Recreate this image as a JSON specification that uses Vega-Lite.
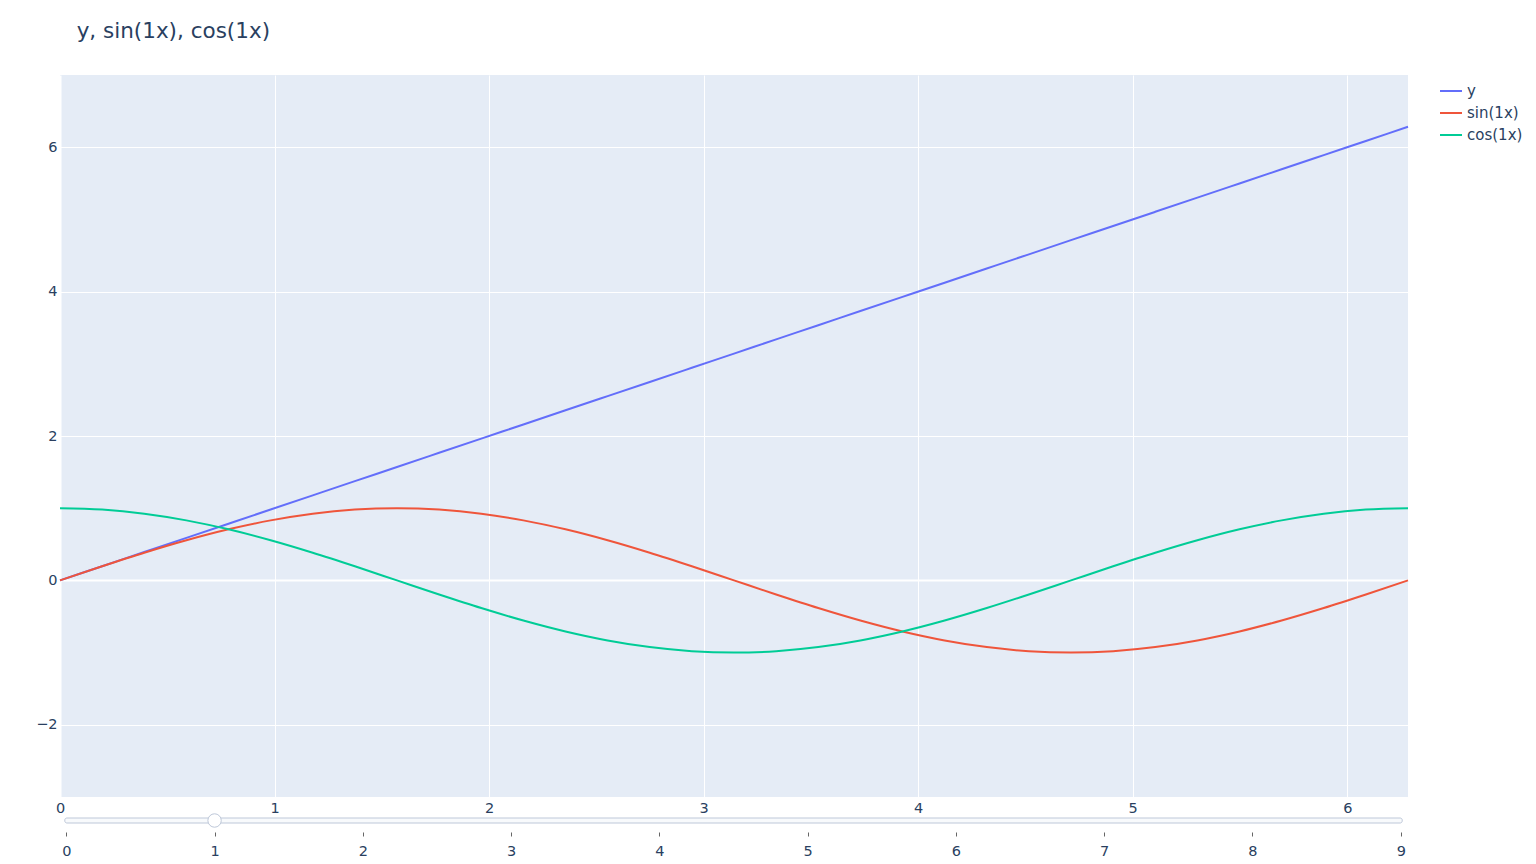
{
  "$schema": "https://vega.github.io/schema/vega-lite/v6.json",
  "padding": {"left": 35, "top": 20, "right": 5, "bottom": 5},
  "background": "white",
  "bounds": "flush",
  "spacing": 21,
  "title": {"text": "y, sin(1x), cos(1x)", "anchor": "start", "dx": 41, "fontSize": 21.5, "fontWeight": "normal", "color": "#2a3f5f", "offset": 33, "font": "DejaVu Sans"},
  "config": {
    "font": "DejaVu Sans",
    "legend": {"labelFontSize": 15, "labelColor": "#2a3f5f", "labelFont": "DejaVu Sans"},
    "axis": {"labelFont": "DejaVu Sans", "labelFontSize": 14.5, "labelColor": "#2a3f5f"}
  },
  "datasets": {
    "curves": [
      {"x": 0, "s": "y", "v": 0}, {"x": 0, "s": "sin(1x)", "v": 0}, {"x": 0, "s": "cos(1x)", "v": 1},
      {"x": 0.19635, "s": "y", "v": 0.19635}, {"x": 0.19635, "s": "sin(1x)", "v": 0.19509}, {"x": 0.19635, "s": "cos(1x)", "v": 0.98079},
      {"x": 0.3927, "s": "y", "v": 0.3927}, {"x": 0.3927, "s": "sin(1x)", "v": 0.38268}, {"x": 0.3927, "s": "cos(1x)", "v": 0.92388},
      {"x": 0.58905, "s": "y", "v": 0.58905}, {"x": 0.58905, "s": "sin(1x)", "v": 0.55557}, {"x": 0.58905, "s": "cos(1x)", "v": 0.83147},
      {"x": 0.7854, "s": "y", "v": 0.7854}, {"x": 0.7854, "s": "sin(1x)", "v": 0.70711}, {"x": 0.7854, "s": "cos(1x)", "v": 0.70711},
      {"x": 0.98175, "s": "y", "v": 0.98175}, {"x": 0.98175, "s": "sin(1x)", "v": 0.83147}, {"x": 0.98175, "s": "cos(1x)", "v": 0.55557},
      {"x": 1.1781, "s": "y", "v": 1.1781}, {"x": 1.1781, "s": "sin(1x)", "v": 0.92388}, {"x": 1.1781, "s": "cos(1x)", "v": 0.38268},
      {"x": 1.37445, "s": "y", "v": 1.37445}, {"x": 1.37445, "s": "sin(1x)", "v": 0.98079}, {"x": 1.37445, "s": "cos(1x)", "v": 0.19509},
      {"x": 1.5708, "s": "y", "v": 1.5708}, {"x": 1.5708, "s": "sin(1x)", "v": 1}, {"x": 1.5708, "s": "cos(1x)", "v": 0},
      {"x": 1.76715, "s": "y", "v": 1.76715}, {"x": 1.76715, "s": "sin(1x)", "v": 0.98079}, {"x": 1.76715, "s": "cos(1x)", "v": -0.19509},
      {"x": 1.9635, "s": "y", "v": 1.9635}, {"x": 1.9635, "s": "sin(1x)", "v": 0.92388}, {"x": 1.9635, "s": "cos(1x)", "v": -0.38268},
      {"x": 2.15984, "s": "y", "v": 2.15984}, {"x": 2.15984, "s": "sin(1x)", "v": 0.83147}, {"x": 2.15984, "s": "cos(1x)", "v": -0.55557},
      {"x": 2.35619, "s": "y", "v": 2.35619}, {"x": 2.35619, "s": "sin(1x)", "v": 0.70711}, {"x": 2.35619, "s": "cos(1x)", "v": -0.70711},
      {"x": 2.55254, "s": "y", "v": 2.55254}, {"x": 2.55254, "s": "sin(1x)", "v": 0.55557}, {"x": 2.55254, "s": "cos(1x)", "v": -0.83147},
      {"x": 2.74889, "s": "y", "v": 2.74889}, {"x": 2.74889, "s": "sin(1x)", "v": 0.38268}, {"x": 2.74889, "s": "cos(1x)", "v": -0.92388},
      {"x": 2.94524, "s": "y", "v": 2.94524}, {"x": 2.94524, "s": "sin(1x)", "v": 0.19509}, {"x": 2.94524, "s": "cos(1x)", "v": -0.98079},
      {"x": 3.14159, "s": "y", "v": 3.14159}, {"x": 3.14159, "s": "sin(1x)", "v": 0}, {"x": 3.14159, "s": "cos(1x)", "v": -1},
      {"x": 3.33794, "s": "y", "v": 3.33794}, {"x": 3.33794, "s": "sin(1x)", "v": -0.19509}, {"x": 3.33794, "s": "cos(1x)", "v": -0.98079},
      {"x": 3.53429, "s": "y", "v": 3.53429}, {"x": 3.53429, "s": "sin(1x)", "v": -0.38268}, {"x": 3.53429, "s": "cos(1x)", "v": -0.92388},
      {"x": 3.73064, "s": "y", "v": 3.73064}, {"x": 3.73064, "s": "sin(1x)", "v": -0.55557}, {"x": 3.73064, "s": "cos(1x)", "v": -0.83147},
      {"x": 3.92699, "s": "y", "v": 3.92699}, {"x": 3.92699, "s": "sin(1x)", "v": -0.70711}, {"x": 3.92699, "s": "cos(1x)", "v": -0.70711},
      {"x": 4.12334, "s": "y", "v": 4.12334}, {"x": 4.12334, "s": "sin(1x)", "v": -0.83147}, {"x": 4.12334, "s": "cos(1x)", "v": -0.55557},
      {"x": 4.31969, "s": "y", "v": 4.31969}, {"x": 4.31969, "s": "sin(1x)", "v": -0.92388}, {"x": 4.31969, "s": "cos(1x)", "v": -0.38268},
      {"x": 4.51604, "s": "y", "v": 4.51604}, {"x": 4.51604, "s": "sin(1x)", "v": -0.98079}, {"x": 4.51604, "s": "cos(1x)", "v": -0.19509},
      {"x": 4.71239, "s": "y", "v": 4.71239}, {"x": 4.71239, "s": "sin(1x)", "v": -1}, {"x": 4.71239, "s": "cos(1x)", "v": 0},
      {"x": 4.90874, "s": "y", "v": 4.90874}, {"x": 4.90874, "s": "sin(1x)", "v": -0.98079}, {"x": 4.90874, "s": "cos(1x)", "v": 0.19509},
      {"x": 5.10509, "s": "y", "v": 5.10509}, {"x": 5.10509, "s": "sin(1x)", "v": -0.92388}, {"x": 5.10509, "s": "cos(1x)", "v": 0.38268},
      {"x": 5.30144, "s": "y", "v": 5.30144}, {"x": 5.30144, "s": "sin(1x)", "v": -0.83147}, {"x": 5.30144, "s": "cos(1x)", "v": 0.55557},
      {"x": 5.49779, "s": "y", "v": 5.49779}, {"x": 5.49779, "s": "sin(1x)", "v": -0.70711}, {"x": 5.49779, "s": "cos(1x)", "v": 0.70711},
      {"x": 5.69414, "s": "y", "v": 5.69414}, {"x": 5.69414, "s": "sin(1x)", "v": -0.55557}, {"x": 5.69414, "s": "cos(1x)", "v": 0.83147},
      {"x": 5.89049, "s": "y", "v": 5.89049}, {"x": 5.89049, "s": "sin(1x)", "v": -0.38268}, {"x": 5.89049, "s": "cos(1x)", "v": 0.92388},
      {"x": 6.08684, "s": "y", "v": 6.08684}, {"x": 6.08684, "s": "sin(1x)", "v": -0.19509}, {"x": 6.08684, "s": "cos(1x)", "v": 0.98079},
      {"x": 6.28319, "s": "y", "v": 6.28319}, {"x": 6.28319, "s": "sin(1x)", "v": 0}, {"x": 6.28319, "s": "cos(1x)", "v": 1}
    ],
    "track": [{"a": -0.01, "b": 9.01}],
    "handle": [{"step": 1}]
  },
  "vconcat": [
    {
      "width": 1348,
      "height": 722,
      "view": {"fill": "#E5ECF6", "stroke": null},
      "data": {"name": "curves"},
      "mark": {"type": "line", "strokeWidth": 2, "interpolate": "monotone"},
      "encoding": {
        "x": {
          "field": "x", "type": "quantitative",
          "scale": {"domain": [0, 6.28319], "nice": false, "zero": false},
          "axis": {"values": [0, 1, 2, 3, 4, 5, 6], "format": "d", "domain": false, "ticks": false, "labelPadding": 4, "title": null, "labelFlush": false, "labelFontSize": 14.5, "labelColor": "#2a3f5f", "labelFont": "DejaVu Sans", "gridColor": "white", "gridWidth": {"condition": {"test": "datum.value === 0", "value": 2}, "value": 1}}
        },
        "y": {
          "field": "v", "type": "quantitative",
          "scale": {"domain": [-3, 7], "nice": false, "zero": false},
          "axis": {"values": [-2, 0, 2, 4, 6], "domain": false, "ticks": false, "labelPadding": 3, "title": null, "labelFontSize": 14.5, "labelColor": "#2a3f5f", "labelFont": "DejaVu Sans", "gridColor": "white", "gridWidth": {"condition": {"test": "datum.value === 0", "value": 2}, "value": 1}}
        },
        "color": {
          "field": "s", "type": "nominal",
          "scale": {"domain": ["y", "sin(1x)", "cos(1x)"], "range": ["#636efa", "#EF553B", "#00cc96"]},
          "legend": {"title": null, "orient": "right", "offset": 23, "padding": 4, "symbolType": "stroke", "symbolSize": 484, "symbolStrokeWidth": 2, "labelOffset": 4, "rowPadding": 2}
        }
      }
    },
    {
      "width": 1348,
      "height": 5,
      "view": {"stroke": null},
      "layer": [
        {
          "data": {"name": "track"},
          "mark": {"type": "rect", "fill": "#f8fafc", "stroke": "#bec8d9", "strokeWidth": 1, "cornerRadius": 2},
          "encoding": {
            "x": {
              "field": "a", "type": "quantitative",
              "scale": {"domain": [-0.0425, 9.049], "nice": false, "zero": false},
              "axis": {"values": [0, 1, 2, 3, 4, 5, 6, 7, 8, 9], "format": "d", "domain": false, "ticks": true, "tickSize": 4, "tickColor": "#666666", "offset": 9, "labelPadding": 8, "grid": false, "title": null, "labelFlush": false, "labelFontSize": 14.5, "labelColor": "#2a3f5f", "labelFont": "DejaVu Sans"}
            },
            "x2": {"field": "b"}
          }
        },
        {
          "data": {"name": "handle"},
          "mark": {"type": "point", "shape": "circle", "filled": true, "fill": "white", "stroke": "#bec8d9", "strokeWidth": 1, "size": 180, "opacity": 1},
          "encoding": {
            "x": {"field": "step", "type": "quantitative"}
          }
        }
      ]
    }
  ]
}
